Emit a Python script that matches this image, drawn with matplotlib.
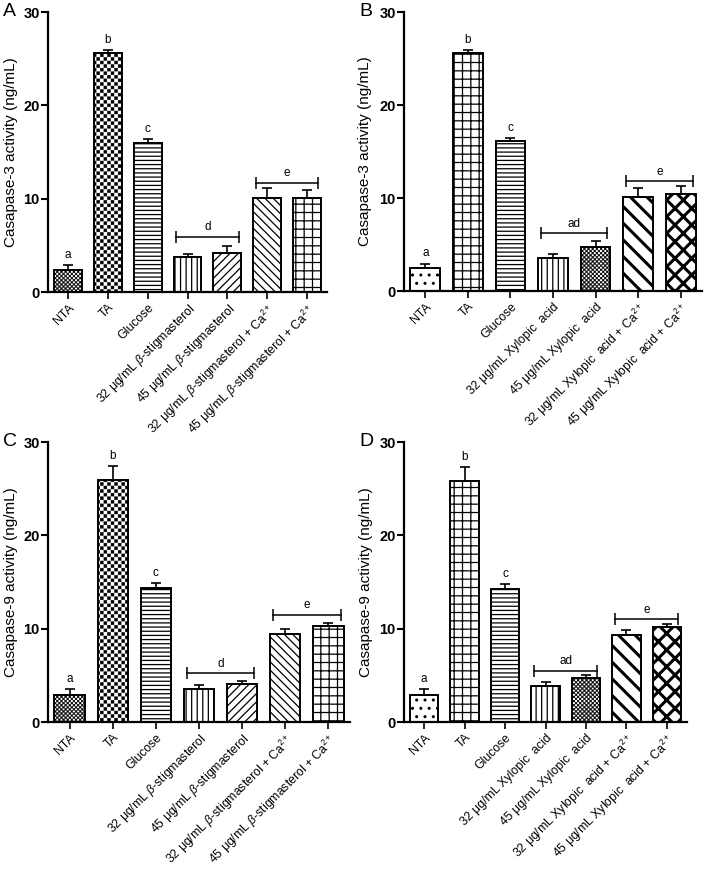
import warnings
import numpy as np
import matplotlib
matplotlib.use("Agg")
import matplotlib.pyplot as plt
import matplotlib.hatch as mhatch
import matplotlib.transforms as mtransforms
from matplotlib.path import Path

warnings.filterwarnings("ignore")

plt.rcParams['font.family'] = ['Liberation Sans', 'DejaVu Sans']
plt.rcParams['mathtext.fontset'] = 'custom'
plt.rcParams['mathtext.rm'] = 'Liberation Sans'
plt.rcParams['mathtext.it'] = 'Liberation Sans:italic'
plt.rcParams['mathtext.bf'] = 'Liberation Sans:bold'
plt.rcParams['hatch.color'] = 'black'

# ---- data ----
cats_stig = ['NTA', 'TA', 'Glucose',
             '32 μg/mL $\\beta$-stigmasterol', '45 μg/mL $\\beta$-stigmasterol',
             '32 μg/mL $\\beta$-stigmasterol + Ca$^{2+}$',
             '45 μg/mL $\\beta$-stigmasterol + Ca$^{2+}$']
cats_xyl = ['NTA', 'TA', 'Glucose',
            '32 μg/mL Xylopic  acid', '45 μg/mL Xylopic  acid',
            '32 μg/mL Xylopic  acid + Ca$^{2+}$',
            '45 μg/mL Xylopic  acid + Ca$^{2+}$']

casp3_stig = [2.4, 25.6, 16.0, 3.7, 4.2, 10.1, 10.1]
casp3_stig_err = [0.5, 0.3, 0.4, 0.35, 0.75, 1.0, 0.8]
casp3_xyl = [2.5, 25.6, 16.1, 3.6, 4.7, 10.1, 10.4]
casp3_xyl_err = [0.45, 0.3, 0.35, 0.4, 0.65, 1.0, 0.9]
casp9_stig = [2.9, 25.9, 14.4, 3.5, 4.05, 9.4, 10.3]
casp9_stig_err = [0.6, 1.5, 0.5, 0.45, 0.3, 0.6, 0.3]
casp9_xyl = [2.9, 25.8, 14.3, 3.9, 4.7, 9.3, 10.15]
casp9_xyl_err = [0.6, 1.5, 0.5, 0.35, 0.3, 0.6, 0.3]

single_letters = ['a', 'b', 'c']  # over NTA, TA, Glucose
# (first bar, last bar, bracket level, label)
brackets_A = [(3, 4, 5.9, 'd'), (5, 6, 11.7, 'e')]
brackets_B = [(3, 4, 6.2, 'ad'), (5, 6, 11.8, 'e')]
brackets_C = [(3, 4, 5.2, 'd'), (5, 6, 11.5, 'e')]
brackets_D = [(3, 4, 5.5, 'ad'), (5, 6, 11.0, 'e')]


# checkerboard hatch ('k' characters), not built in to matplotlib
class CheckerHatch(mhatch.HatchPatternBase):
    def __init__(self, hatch, density):
        self.n = hatch.count('k') * 4
        self.num_vertices = 5 * (self.n * self.n // 2)

    def set_vertices_and_codes(self, vertices, codes):
        s = 1.0 / self.n
        sq = np.array([[0, 0], [s, 0], [s, s], [0, s], [0, 0]]) * 0.8 + s * 0.1
        parts = [sq + [i * s, j * s] for i in range(self.n)
                 for j in range(self.n) if (i + j) % 2 == 0]
        vertices[:] = np.concatenate(parts)
        codes[:] = np.tile([Path.MOVETO, Path.LINETO, Path.LINETO,
                            Path.LINETO, Path.CLOSEPOLY], len(parts))


mhatch._hatch_types.append(CheckerHatch)

hatch_stig = ['k' * 12, 'k' * 7, '----', '|||', '////', '\\\\\\\\', '++']
hatch_xyl = ['..', '++', '----', '|||', 'k' * 12, '\\\\', 'xx']
hatch_lw_stig = [0.4, 0.4, 0.9, 0.9, 0.9, 0.9, 0.9]
hatch_lw_xyl = [1.0, 0.9, 0.9, 0.9, 0.4, 2.2, 2.2]

W, H = 708, 871
fig = plt.figure(figsize=(W / 100, H / 100), dpi=100)


def px_axes(l, r, t, b):
    return fig.add_axes([l / W, 1 - b / H, (r - l) / W, (b - t) / H])


def panel(ax, letter, lab_x, vals, errs, cats, hatches, hlws, brackets, ylabel):
    x = np.arange(len(vals))
    bars = ax.bar(x, vals, width=0.7, color='white', edgecolor='black',
                  linewidth=1.4, zorder=2)
    for b, h, lw in zip(bars, hatches, hlws):
        b.set_hatch(h)
        if hasattr(b, 'set_hatch_linewidth'):
            b.set_hatch_linewidth(lw)
    ax.errorbar(x, vals, yerr=[np.zeros(len(errs)), errs], fmt='none',
                ecolor='black', elinewidth=1.2, capsize=3.5, capthick=1.2, zorder=3)

    for i, s in enumerate(single_letters):
        ax.annotate(s, (x[i], vals[i] + errs[i]), xytext=(0, 3),
                    textcoords='offset points', ha='center', va='bottom', fontsize=8.5)
    for i0, i1, lvl, s in brackets:
        ax.plot([i0 - 0.28, i1 + 0.28], [lvl, lvl], color='black', lw=1.1, zorder=3)
        ax.plot([i0 - 0.28, i1 + 0.28], [lvl, lvl], ls='none', marker='|',
                ms=8, mew=1.1, color='black', zorder=3)
        ax.annotate(s, ((i0 + i1) / 2, lvl), xytext=(0, 2.5),
                    textcoords='offset points', ha='center', va='bottom', fontsize=8.5)

    ax.set_xlim(-0.5, 6.5)
    ax.set_ylim(0, 30)
    ax.set_yticks([0, 10, 20, 30])
    ax.set_xticks(x)
    ax.set_xticklabels(cats, rotation=45, ha='right', rotation_mode='anchor', fontsize=8.8)
    for t in ax.get_yticklabels():
        t.set_fontweight('bold')
        t.set_fontsize(10.5)
    ax.tick_params(axis='y', length=5, width=1.5, pad=1)
    ax.tick_params(axis='x', length=5, width=1.2, pad=2)
    ax.spines['top'].set_visible(False)
    ax.spines['right'].set_visible(False)
    ax.spines['left'].set_linewidth(1.6)
    ax.spines['bottom'].set_linewidth(1.6)

    ax.set_ylabel(ylabel, fontsize=11)
    tr = mtransforms.blended_transform_factory(fig.transFigure, ax.transAxes)
    ax.yaxis.set_label_coords(lab_x / W, 0.5, transform=tr)
    bb = ax.get_position()
    fig.text(bb.x0 - 45 / W, bb.y1 + 9 / H, letter, fontsize=14, va='top', ha='left')


axA = px_axes(48, 327, 12, 292)
axB = px_axes(404, 702, 12, 291)
axC = px_axes(48, 350, 442, 722)
axD = px_axes(404, 687, 442, 722)

panel(axA, 'A', 18, casp3_stig, casp3_stig_err, cats_stig, hatch_stig, hatch_lw_stig,
      brackets_A, 'Casapase-3 activity (ng/mL)')
panel(axB, 'B', 372, casp3_xyl, casp3_xyl_err, cats_xyl, hatch_xyl, hatch_lw_xyl,
      brackets_B, 'Casapase-3 activity (ng/mL)')
panel(axC, 'C', 18, casp9_stig, casp9_stig_err, cats_stig, hatch_stig, hatch_lw_stig,
      brackets_C, 'Casapase-9 activity (ng/mL)')
panel(axD, 'D', 373, casp9_xyl, casp9_xyl_err, cats_xyl, hatch_xyl, hatch_lw_xyl,
      brackets_D, 'Casapase-9 activity (ng/mL)')

fig.savefig('out.png', dpi=100)
